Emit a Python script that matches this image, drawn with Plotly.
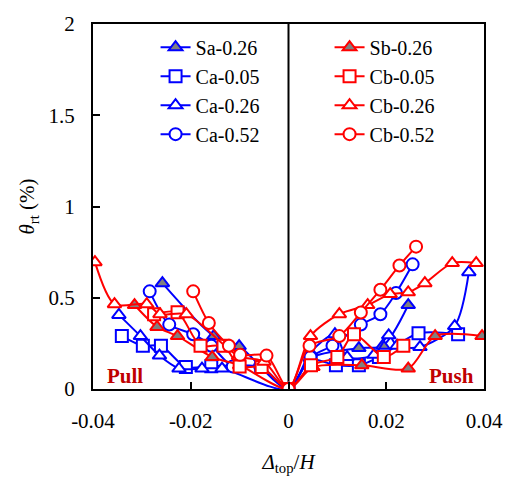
import plotly.graph_objects as go

# ---- data (drift ratio, residual rotation %) ----
sa026_x = [-0.0258, -0.0153, -0.0101, 0.0, 0.0045, 0.0144, 0.0193, 0.0245]
sa026_y = [0.58, 0.29, 0.235, 0.0, 0.17, 0.224, 0.237, 0.46]

ca005_x = [-0.0341, -0.0298, -0.0261, -0.0210, -0.0158, -0.0056, 0.0, 0.0045, 0.0097, 0.0144, 0.0185, 0.0266, 0.0347]
ca005_y = [0.29, 0.237, 0.237, 0.12, 0.125, 0.12, 0.0, 0.16, 0.13, 0.13, 0.175, 0.305, 0.30]

ca026_x = [-0.0347, -0.0303, -0.0264, -0.0224, -0.0177, -0.0136, 0.0, 0.0045, 0.0095, 0.0120, 0.0175, 0.0205, 0.0222, 0.0269, 0.0340, 0.0369]
ca026_y = [0.406, 0.29, 0.183, 0.112, 0.112, 0.112, 0.0, 0.20, 0.30, 0.175, 0.187, 0.294, 0.237, 0.23, 0.345, 0.64]

ca052_x = [-0.0284, -0.0244, -0.0195, -0.0158, -0.0114, -0.0058, 0.0, 0.0045, 0.0090, 0.0148, 0.0188, 0.0220, 0.0254]
ca052_y = [0.535, 0.353, 0.30, 0.237, 0.123, 0.125, 0.0, 0.175, 0.237, 0.353, 0.41, 0.526, 0.683]

sb026_x = [-0.0315, -0.0269, -0.0227, -0.0156, -0.0100, 0.0, 0.0050, 0.0150, 0.0245, 0.0300, 0.0396]
sb026_y = [0.46, 0.34, 0.29, 0.175, 0.13, 0.0, 0.12, 0.13, 0.112, 0.29, 0.29]

cb005_x = [-0.0275, -0.0227, -0.0180, -0.0133, -0.0100, -0.0055, 0.0, 0.0046, 0.0100, 0.0134, 0.0195, 0.0235]
cb005_y = [0.41, 0.42, 0.237, 0.237, 0.123, 0.12, 0.0, 0.13, 0.175, 0.30, 0.175, 0.237]

cb026_x = [-0.0396, -0.0356, -0.0290, -0.0263, -0.0209, -0.0102, -0.0050, 0.0, 0.0045, 0.0104, 0.0162, 0.0208, 0.0245, 0.0279, 0.0335, 0.0384]
cb026_y = [0.695, 0.465, 0.465, 0.41, 0.41, 0.18, 0.15, 0.0, 0.29, 0.41, 0.46, 0.52, 0.53, 0.58, 0.69, 0.69]

cb052_x = [-0.0195, -0.0163, -0.0122, -0.0099, -0.0045, 0.0, 0.0043, 0.0104, 0.0148, 0.0188, 0.0227, 0.0261]
cb052_y = [0.535, 0.362, 0.237, 0.187, 0.183, 0.0, 0.237, 0.29, 0.419, 0.544, 0.677, 0.78]

x_ticks = [-0.04, -0.02, 0, 0.02, 0.04]
x_tick_labels = ["-0.04", "-0.02", "0", "0.02", "0.04"]
y_ticks = [0, 0.5, 1, 1.5, 2]
y_tick_labels = ["0", "0.5", "1", "1.5", "2"]

BLUE = "#0000ff"
RED = "#ff0000"
FONT = "Liberation Serif, Times New Roman, serif"

series = [
    ("Sa-0.26", sa026_x, sa026_y, BLUE, "triangle-up", "#808080", "legend"),
    ("Ca-0.05", ca005_x, ca005_y, BLUE, "square", "white", "legend"),
    ("Ca-0.26", ca026_x, ca026_y, BLUE, "triangle-up", "white", "legend"),
    ("Ca-0.52", ca052_x, ca052_y, BLUE, "circle", "white", "legend"),
    ("Sb-0.26", sb026_x, sb026_y, RED, "triangle-up", "#808080", "legend2"),
    ("Cb-0.05", cb005_x, cb005_y, RED, "square", "white", "legend2"),
    ("Cb-0.26", cb026_x, cb026_y, RED, "triangle-up", "white", "legend2"),
    ("Cb-0.52", cb052_x, cb052_y, RED, "circle", "white", "legend2"),
]

fig = go.Figure()
for name, xs, ys, col, sym, fill, leg in series:
    fig.add_trace(go.Scatter(
        x=xs, y=ys, name=name, mode="lines+markers",
        line=dict(color=col, width=2, shape="spline", smoothing=0.8),
        marker=dict(symbol=sym, size=12, color=fill, line=dict(color=col, width=2)),
        legend=leg,
    ))

fig.add_shape(type="line", x0=0, x1=0, y0=0, y1=2, xref="x", yref="y",
              line=dict(color="black", width=2), layer="below")

fig.add_annotation(x=-0.0375, y=0.07, text="<b>Pull</b>", showarrow=False,
                   xanchor="left", yanchor="middle",
                   font=dict(family=FONT, size=21, color="#c00000"))
fig.add_annotation(x=0.0384, y=0.07, text="<b>Push</b>", showarrow=False,
                   xanchor="right", yanchor="middle",
                   font=dict(family=FONT, size=21, color="#c00000"))

axis_common = dict(showline=True, linecolor="black", linewidth=2, mirror=True,
                   ticks="inside", ticklen=7, tickwidth=2, tickcolor="black",
                   showgrid=False, zeroline=False,
                   tickfont=dict(family=FONT, size=21, color="black"))

fig.update_xaxes(range=[-0.04, 0.04], tickvals=x_ticks, ticktext=x_tick_labels,
                 ticklabelstandoff=12,
                 title=dict(text="<i>Δ</i><sub>top</sub>/<i>H</i>", standoff=22,
                            font=dict(family=FONT, size=21, color="black")),
                 **axis_common)
fig.update_yaxes(range=[0, 2], tickvals=y_ticks, ticktext=y_tick_labels,
                 ticklabelstandoff=12,
                 title=dict(text="<i>θ</i><sub>rt</sub> (%)", standoff=8,
                            font=dict(family=FONT, size=21, color="black")),
                 **axis_common)

legend_common = dict(bgcolor="rgba(0,0,0,0)", borderwidth=0,
                     font=dict(family=FONT, size=20, color="black"),
                     tracegroupgap=0, itemwidth=30, xanchor="left", yanchor="top")

fig.update_layout(
    width=515, height=482,
    margin=dict(l=93, r=27, t=17, b=91),
    plot_bgcolor="white", paper_bgcolor="white",
    font=dict(family=FONT, size=21, color="black"),
    legend=dict(x=0.16, y=0.99, **legend_common),
    legend2=dict(x=0.605, y=0.99, **legend_common),
)

fig.write_html("out.html")
